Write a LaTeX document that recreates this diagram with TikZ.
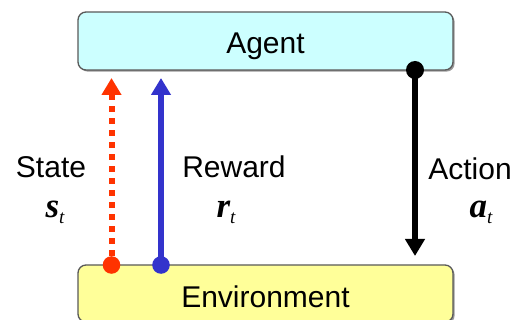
\documentclass[tikz,border=0pt]{standalone}
\usepackage{fontspec}
\setmainfont{Liberation Sans}
\newfontfamily\varfont{Liberation Serif}
\usetikzlibrary{arrows.meta,shadows}

\definecolor{statered}{HTML}{FF3300}
\definecolor{rewardblue}{HTML}{3333CC}
\definecolor{agentfill}{HTML}{CCFFFF}
\definecolor{envfill}{HTML}{FFFF99}

\tikzset{
  box/.style={draw=black!65, line width=1.3pt, rounded corners=8pt,
    minimum width=375pt, inner sep=0pt,
    copy shadow={shadow xshift=1.6pt, shadow yshift=-1.6pt, fill=black!40, draw=none}},
  lbl/.style={font=\fontsize{30}{32}\selectfont, anchor=base, inner sep=0pt},
  sym/.style={font=\fontsize{35}{36}\selectfont\varfont\bfseries\itshape, anchor=base, inner sep=0pt},
  dotc/.style={circle, inner sep=0pt, minimum size=18pt},
  flow/.style={line width=6pt, -{Triangle[length=17pt,width=19pt]}},
}
\newcommand{\subt}{\raisebox{-6pt}{\fontsize{19}{19}\selectfont\mdseries t}}

\begin{document}
\begin{tikzpicture}[x=1pt,y=-1pt]
\useasboundingbox (0,0) rectangle (527,320);

% agent and environment boxes
\node[box, fill=agentfill, minimum height=58pt] (agent) at (265.5,41) {};
\node[box, fill=envfill, minimum height=57pt] (env) at (265.5,293.5) {};
\node[lbl] (agenttxt) at (265.5,54) {Agent};
\node[lbl] (envtxt) at (265.5,307) {Environment};

% start points of the three signals
\coordinate (stop) at (111.5,78);
\coordinate (rtop) at (161,78);
\coordinate (abot) at (415,256);
\node[dotc] (sdot) at (111.5,265) {};
\node[dotc] (rdot) at (161,265) {};
\node[dotc] (adot) at (415,70) {};

% state, reward and action arrows
\draw[flow, statered, dash pattern=on 6pt off 6pt, dash phase=3pt] (sdot.center) -- (stop);
\draw[flow, rewardblue] (rdot.center) -- (rtop);
\draw[flow, black] (adot.center) -- (abot);
\fill[statered] (sdot) circle (8.8pt);
\fill[rewardblue] (rdot) circle (8.8pt);
\fill[black] (adot) circle (9pt);

% labels
\node[lbl] (statetxt) at (51,178) {State};
\node[lbl] (rewardtxt) at (234,178) {Reward};
\node[lbl] (actiontxt) at (470,180) {Action};
\node[sym] (ssym) at (55,218) {s\subt};
\node[sym] (rsym) at (226,218) {r\subt};
\node[sym] (asym) at (481,218) {a\subt};
\end{tikzpicture}
\end{document}
